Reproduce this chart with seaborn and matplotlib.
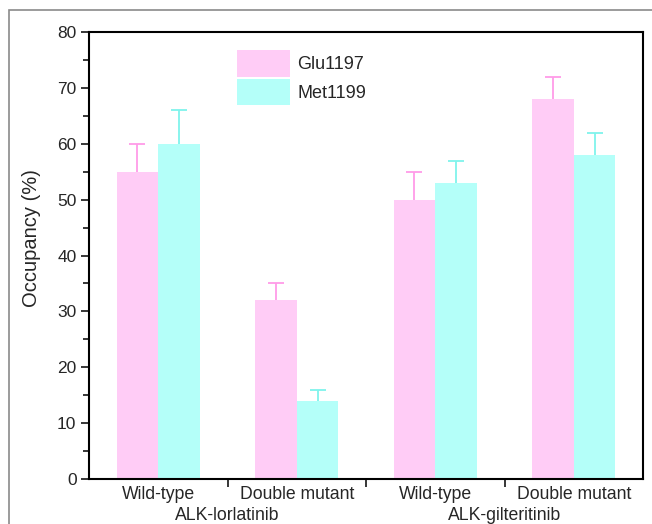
import matplotlib
matplotlib.use("Agg")
import matplotlib.pyplot as plt
from matplotlib.patches import Rectangle
from matplotlib.ticker import MultipleLocator, FixedLocator
import seaborn as sns
import pandas as pd

categories = ["Wild-type", "Double mutant", "Wild-type ", "Double mutant "]
tick_labels = ["Wild-type", "Double mutant", "Wild-type", "Double mutant"]
groups = ["ALK-lorlatinib", "ALK-gilteritinib"]
series = ["Glu1197", "Met1199"]
glu_values = [55, 32, 50, 68]
met_values = [60, 14, 53, 58]
glu_err = [5, 3, 5, 4]
met_err = [6, 2, 4, 4]

bar_colors = ["#FFCCF6", "#B4FFF9"]
err_colors = ["#FF9BE8", "#7FF3EC"]

sns.set_style("white")
plt.rcParams["font.family"] = ["Liberation Sans", "DejaVu Sans"]

df = pd.DataFrame({
    "category": categories * 2,
    "value": glu_values + met_values,
    "series": [series[0]] * 4 + [series[1]] * 4,
})

fig = plt.figure(figsize=(6.52, 5.24), dpi=100)
ax = fig.add_axes([89 / 652, 1 - 479 / 524, (643 - 89) / 652, (479 - 32) / 524])

sns.barplot(data=df, x="category", y="value", hue="series", order=categories,
            hue_order=series, palette=bar_colors, width=0.6, saturation=1,
            edgecolor="none", linewidth=0, ax=ax, legend=True)

errs = [glu_err, met_err]
for cont, e, c in zip(ax.containers, errs, err_colors):
    xs = [p.get_x() + p.get_width() / 2 for p in cont.patches]
    hs = [p.get_height() for p in cont.patches]
    eb = ax.errorbar(xs, hs, yerr=[[0] * len(e), e], fmt="none", ecolor=c,
                     elinewidth=1.3, capsize=5.5, capthick=1.3, zorder=3)
    # hide the lower caps (one-sided error bars)
    eb[1][0].set_visible(False)

ax.set_ylim(0, 80)
ax.set_xlim(-0.5, 3.5)
ax.yaxis.set_major_locator(MultipleLocator(10))
ax.yaxis.set_minor_locator(MultipleLocator(5))
ax.set_xticks(range(4))
ax.set_xticklabels(tick_labels)
ax.xaxis.set_minor_locator(FixedLocator([0.5, 1.5, 2.5]))
ax.tick_params(axis="x", which="major", length=0, pad=5, labelsize=12.7)
ax.tick_params(axis="x", which="minor", length=6, width=1.3, direction="out", bottom=True)
ax.tick_params(axis="y", which="major", length=6, width=1.3, direction="out", left=True, labelsize=12.5, pad=3)
ax.tick_params(axis="y", which="minor", length=4, width=1.3, direction="out", left=True)
ax.set_xlabel("")
ax.set_ylabel("Occupancy (%)", fontsize=14.5)
ax.yaxis.set_label_coords(-0.086, 0.54)

for s in ax.spines.values():
    s.set_visible(True)
    s.set_color("black")
    s.set_linewidth(1.5)

trans = ax.get_xaxis_transform()
for gx, g in zip([0.5, 2.5], groups):
    ax.text(gx, -0.082, g, transform=trans, ha="center", va="center", fontsize=12.7)

leg = ax.legend(loc="upper left", bbox_to_anchor=(0.255, 0.975), frameon=False,
                fontsize=13, handlelength=2.9, handleheight=1.85,
                handletextpad=0.4, labelspacing=0.15, borderaxespad=0)

fig.patches.append(Rectangle((9 / 652, -0.05), 1.0, 1 - 10 / 524 + 0.05,
                             transform=fig.transFigure, fill=False,
                             edgecolor="#8a8a8a", linewidth=1.2, zorder=0))

fig.savefig("out.png", dpi=100)
